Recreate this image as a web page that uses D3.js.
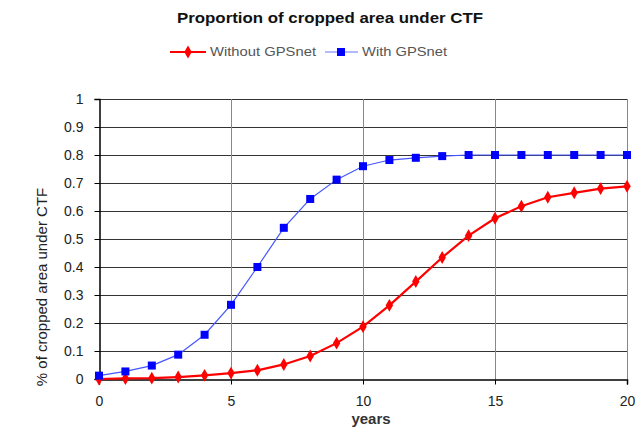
<!DOCTYPE html>
<html><head><meta charset="utf-8">
<script src="https://cdn.jsdelivr.net/npm/d3@7"></script>
<style>body{margin:0;background:#fff}</style>
</head><body>
<svg id="c" width="640" height="436"></svg>
<script>
const years = d3.range(0, 21);
const withoutGPSnet = [0.0,0.002,0.003,0.007,0.013,0.021,0.031,0.052,0.082,0.128,0.187,0.263,0.348,0.434,0.512,0.574,0.617,0.649,0.665,0.680,0.688];
const withGPSnet = [0.012,0.027,0.048,0.087,0.158,0.265,0.40,0.54,0.643,0.712,0.76,0.782,0.79,0.796,0.80,0.80,0.80,0.80,0.80,0.80,0.80];
const xTicks = [0,5,10,15,20];
const yTicks = [0,0.1,0.2,0.3,0.4,0.5,0.6,0.7,0.8,0.9,1];
const title = "Proportion of cropped area under CTF";
const seriesNames = ["Without GPSnet", "With GPSnet"];

const svg = d3.select("#c");
const L = 99, R = 627, T = 99, B = 379;
const x = d3.scaleLinear().domain([0,20]).range([L,R]);
const y = d3.scaleLinear().domain([0,1]).range([B,T]);
const font = "Arial, 'Liberation Sans', sans-serif";

// gridlines
svg.append("g").selectAll("line").data(yTicks.filter(d=>d>0)).join("line")
  .attr("x1",L).attr("x2",R).attr("y1",d=>y(d)+0.5).attr("y2",d=>y(d)+0.5)
  .attr("stroke","#333").attr("stroke-width",1);
svg.append("g").selectAll("line").data(xTicks.filter(d=>d>0)).join("line")
  .attr("y1",T).attr("y2",B).attr("x1",d=>x(d)+0.5).attr("x2",d=>x(d)+0.5)
  .attr("stroke","#888").attr("stroke-width",1);

// axes
const ya = svg.append("g").attr("transform",`translate(${L+0.5},0)`)
  .call(d3.axisLeft(y).tickValues(yTicks).tickSize(5).tickFormat(d=>d3.format("")(+d.toFixed(1))));
const xa = svg.append("g").attr("transform",`translate(0,${B+0.5})`)
  .call(d3.axisBottom(x).tickValues(xTicks).tickSize(5).tickPadding(12));
[ya,xa].forEach(a=>{
  a.select(".domain").attr("stroke","#000").attr("stroke-width",1.5);
  a.selectAll(".tick line").attr("stroke","#000");
  a.selectAll("text").attr("font-family",font).attr("font-size",14).attr("fill","#222");
});
ya.selectAll(".tick text").attr("dx",-8);

// lines
const lineGen = d3.line().x((d,i)=>x(years[i])).y(d=>y(d));
svg.append("path").datum(withGPSnet).attr("d",lineGen)
  .attr("fill","none").attr("stroke","#4455ff").attr("stroke-width",1.2);
svg.append("path").datum(withoutGPSnet).attr("d",lineGen)
  .attr("fill","none").attr("stroke","#ff0000").attr("stroke-width",2.2);

const diamond = d3.symbol().type(d3.symbolDiamond).size(48);
svg.append("g").selectAll("path").data(withoutGPSnet).join("path")
  .attr("d",diamond).attr("transform",(d,i)=>`translate(${x(years[i])},${y(d)})`)
  .attr("fill","#ff0000");
svg.append("g").selectAll("rect").data(withGPSnet).join("rect")
  .attr("x",(d,i)=>x(years[i])-4).attr("y",d=>y(d)-4).attr("width",8).attr("height",8)
  .attr("fill","#0000ff");

// title
svg.append("text").attr("x",177).attr("y",23)
  .attr("font-family",font).attr("font-size",15).attr("font-weight","bold").attr("fill","#111")
  .attr("textLength",306).attr("lengthAdjust","spacingAndGlyphs")
  .text(title);

// legend
const lg = svg.append("g");
lg.append("line").attr("x1",170).attr("x2",206).attr("y1",52).attr("y2",52).attr("stroke","#ff0000").attr("stroke-width",2);
lg.append("path").attr("d",diamond).attr("transform","translate(188,52)").attr("fill","#ff0000");
lg.append("text").attr("x",210).attr("y",56).attr("font-family",font).attr("font-size",12).attr("fill","#555")
  .attr("textLength",106).attr("lengthAdjust","spacingAndGlyphs").text(seriesNames[0]);
lg.append("line").attr("x1",325).attr("x2",358).attr("y1",52).attr("y2",52).attr("stroke","#6677ff").attr("stroke-width",1);
lg.append("rect").attr("x",337).attr("y",48).attr("width",8).attr("height",8).attr("fill","#0000ff");
lg.append("text").attr("x",362).attr("y",56).attr("font-family",font).attr("font-size",12).attr("fill","#555")
  .attr("textLength",85).attr("lengthAdjust","spacingAndGlyphs").text(seriesNames[1]);

// axis titles
svg.append("text").attr("x",371).attr("y",424).attr("text-anchor","middle")
  .attr("font-family",font).attr("font-size",15).attr("font-weight","bold").attr("fill","#333").text("years");
svg.append("text").attr("transform","translate(47,287) rotate(-90)").attr("text-anchor","middle")
  .attr("font-family",font).attr("font-size",15).attr("fill","#222").text("% of cropped area under CTF");
</script>
</body></html>
